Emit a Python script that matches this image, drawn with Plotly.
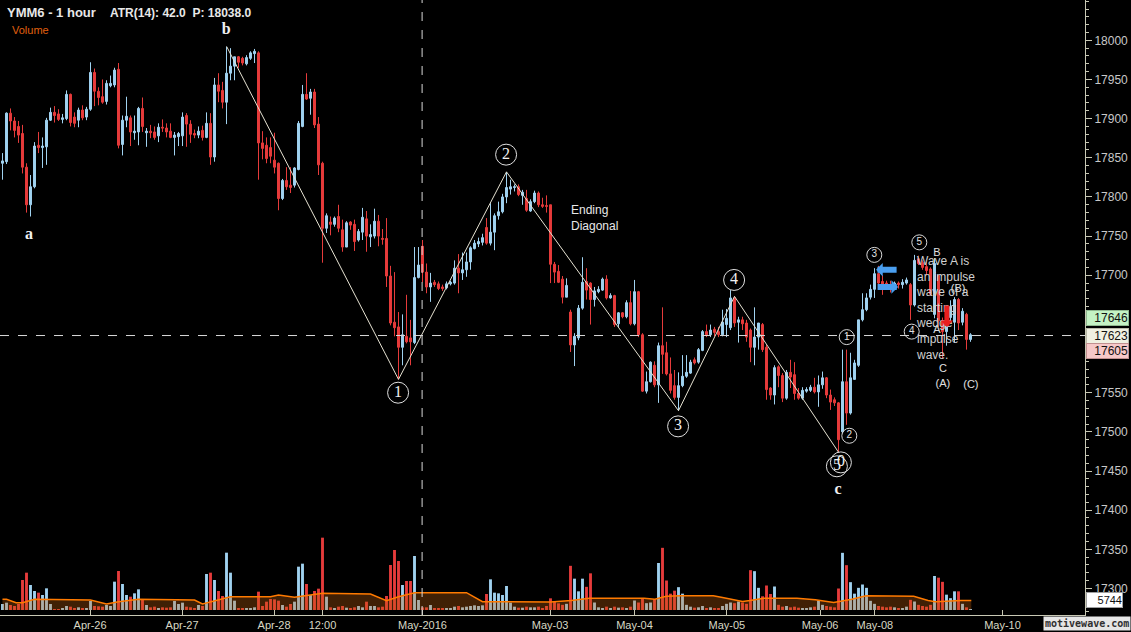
import plotly.graph_objects as go

# Hourly bars of YMM6 (bar index from the left edge of the chart)
opens = [17843, 17845, 17907, 17897, 17890, 17881, 17838, 17790, 17813, 17866,
         17863, 17864, 17898, 17908, 17906, 17899, 17900, 17931, 17902, 17898,
         17911, 17902, 17912, 17959, 17935, 17928, 17922, 17942, 17943, 17963,
         17867, 17898, 17901, 17882, 17883, 17913, 17882, 17884, 17883, 17878,
         17889, 17888, 17884, 17876, 17877, 17878, 17904, 17893, 17881, 17879,
         17885, 17876, 17894, 17851, 17943, 17936, 17921, 17958, 17967, 17979,
         17977, 17970, 17977, 17983, 17984, 17869, 17866, 17863, 17847, 17843,
         17798, 17821, 17815, 17815, 17835, 17890, 17931, 17926, 17934, 17893,
         17843, 17760, 17768, 17765, 17775, 17758, 17736, 17768, 17765, 17745,
         17755, 17772, 17749, 17750, 17769, 17747, 17747, 17699, 17640, 17634,
         17608, 17622, 17620, 17614, 17697, 17737, 17704, 17685, 17691, 17689,
         17685, 17684, 17689, 17690, 17709, 17703, 17707, 17717, 17734, 17740,
         17742, 17761, 17741, 17755, 17776, 17781, 17800, 17810, 17812, 17813,
         17802, 17798, 17782, 17794, 17805, 17790, 17789, 17790, 17714, 17705,
         17695, 17672, 17653, 17611, 17620, 17658, 17692, 17690, 17669, 17679,
         17681, 17695, 17671, 17674, 17638, 17652, 17647, 17665, 17638, 17679,
         17624, 17552, 17564, 17585, 17560, 17610, 17601, 17574, 17559, 17544,
         17559, 17571, 17575, 17592, 17589, 17604, 17628, 17624, 17631, 17628,
         17624, 17637, 17633, 17671, 17640, 17643, 17639, 17630, 17608, 17621,
         17637, 17608, 17556, 17547, 17583, 17572, 17543, 17576, 17573, 17549,
         17543, 17552, 17553, 17557, 17551, 17560, 17569, 17547, 17541, 17537,
         17500, 17564, 17524, 17567, 17585, 17643, 17656, 17672, 17682, 17702,
         17692, 17690, 17687, 17684, 17690, 17688, 17690, 17688, 17662, 17721,
         17716, 17711, 17708, 17650, 17700, 17642, 17628, 17646, 17640, 17669,
         17640, 17650, 17618]

highs = [17856, 17908, 17913, 17902, 17897, 17892, 17843, 17828, 17870, 17883,
         17876, 17901, 17914, 17916, 17912, 17906, 17936, 17932, 17908, 17914,
         17917, 17915, 17972, 17964, 17940, 17950, 17949, 17955, 17965, 17971,
         17904, 17928, 17904, 17904, 17915, 17927, 17888, 17892, 17890, 17894,
         17899, 17894, 17894, 17883, 17883, 17908, 17907, 17898, 17886, 17890,
         17891, 17908, 17907, 17952, 17958, 17947, 17992, 17990, 17979, 17980,
         17979, 17981, 17986, 17989, 17986, 17884, 17876, 17876, 17882, 17844,
         17823, 17838, 17838, 17838, 17897, 17943, 17958, 17938, 17938, 17902,
         17845, 17779, 17775, 17775, 17790, 17771, 17769, 17769, 17771, 17759,
         17786, 17782, 17765, 17785, 17777, 17759, 17773, 17712, 17704, 17653,
         17650, 17675, 17643, 17736, 17736, 17745, 17715, 17703, 17694, 17692,
         17688, 17692, 17693, 17719, 17727, 17729, 17729, 17737, 17745, 17748,
         17753, 17773, 17792, 17779, 17794, 17804, 17832, 17822, 17816, 17816,
         17809, 17809, 17797, 17808, 17807, 17799, 17802, 17790, 17717, 17713,
         17699, 17696, 17656, 17626, 17662, 17723, 17709, 17691, 17685, 17686,
         17697, 17700, 17677, 17675, 17653, 17653, 17668, 17680, 17694, 17680,
         17626, 17577, 17590, 17590, 17614, 17659, 17615, 17595, 17579, 17576,
         17598, 17598, 17592, 17595, 17607, 17630, 17637, 17637, 17634, 17634,
         17656, 17657, 17681, 17673, 17647, 17647, 17643, 17632, 17659, 17639,
         17639, 17611, 17557, 17585, 17585, 17575, 17579, 17592, 17589, 17556,
         17557, 17557, 17560, 17569, 17572, 17577, 17570, 17554, 17544, 17538,
         17605, 17605, 17601, 17592, 17643, 17677, 17677, 17688, 17709, 17712,
         17700, 17693, 17693, 17692, 17692, 17695, 17697, 17690, 17726, 17725,
         17719, 17717, 17710, 17722, 17700, 17646, 17652, 17668, 17672, 17671,
         17658, 17652, 17626]

lows = [17822, 17842, 17885, 17876, 17869, 17830, 17780, 17775, 17811, 17856,
        17837, 17841, 17897, 17895, 17897, 17894, 17898, 17890, 17889, 17889,
        17898, 17898, 17910, 17916, 17917, 17919, 17918, 17940, 17940, 17862,
        17853, 17889, 17865, 17873, 17866, 17883, 17864, 17875, 17873, 17870,
        17883, 17876, 17875, 17853, 17865, 17865, 17864, 17869, 17875, 17875,
        17872, 17875, 17841, 17845, 17921, 17913, 17893, 17949, 17949, 17965,
        17968, 17968, 17975, 17971, 17822, 17848, 17843, 17843, 17830, 17783,
        17796, 17809, 17805, 17812, 17834, 17889, 17924, 17905, 17888, 17828,
        17716, 17754, 17751, 17762, 17755, 17730, 17736, 17758, 17731, 17743,
        17745, 17730, 17736, 17747, 17737, 17739, 17685, 17636, 17622, 17567,
        17585, 17613, 17585, 17612, 17696, 17691, 17677, 17666, 17685, 17681,
        17680, 17682, 17687, 17688, 17677, 17694, 17698, 17707, 17733, 17736,
        17738, 17739, 17738, 17732, 17771, 17779, 17792, 17803, 17807, 17801,
        17790, 17781, 17781, 17792, 17787, 17786, 17780, 17690, 17690, 17690,
        17664, 17672, 17602, 17584, 17617, 17656, 17669, 17637, 17660, 17677,
        17680, 17669, 17670, 17634, 17634, 17645, 17645, 17636, 17636, 17621,
        17551, 17549, 17563, 17557, 17537, 17574, 17572, 17549, 17541, 17527,
        17557, 17569, 17574, 17586, 17587, 17603, 17621, 17621, 17622, 17621,
        17622, 17621, 17630, 17634, 17614, 17630, 17615, 17589, 17585, 17605,
        17602, 17541, 17541, 17535, 17557, 17538, 17541, 17556, 17541, 17541,
        17541, 17550, 17551, 17549, 17532, 17555, 17543, 17528, 17533, 17474,
        17498, 17509, 17522, 17567, 17583, 17641, 17654, 17669, 17671, 17686,
        17675, 17682, 17678, 17682, 17683, 17683, 17688, 17643, 17660, 17713,
        17707, 17700, 17674, 17645, 17634, 17594, 17610, 17640, 17614, 17630,
        17636, 17605, 17615]

closes = [17846, 17907, 17897, 17885, 17879, 17838, 17790, 17813, 17865, 17863,
          17865, 17898, 17908, 17904, 17899, 17901, 17931, 17895, 17894, 17911,
          17901, 17912, 17959, 17935, 17927, 17921, 17945, 17945, 17962, 17866,
          17898, 17903, 17883, 17884, 17913, 17890, 17884, 17882, 17876, 17889,
          17888, 17883, 17876, 17879, 17881, 17902, 17893, 17880, 17879, 17884,
          17876, 17894, 17851, 17943, 17935, 17921, 17958, 17967, 17979, 17972,
          17971, 17978, 17984, 17986, 17869, 17862, 17849, 17852, 17838, 17798,
          17821, 17813, 17812, 17837, 17894, 17931, 17925, 17934, 17892, 17841,
          17760, 17776, 17765, 17773, 17760, 17736, 17767, 17764, 17743, 17756,
          17774, 17750, 17752, 17769, 17750, 17746, 17699, 17639, 17633, 17608,
          17624, 17615, 17615, 17697, 17713, 17704, 17685, 17690, 17688, 17683,
          17683, 17689, 17691, 17709, 17703, 17707, 17717, 17735, 17741, 17743,
          17748, 17741, 17755, 17776, 17781, 17800, 17812, 17813, 17813, 17803,
          17806, 17783, 17794, 17805, 17790, 17788, 17788, 17714, 17704, 17691,
          17672, 17687, 17611, 17622, 17658, 17691, 17681, 17669, 17680, 17682,
          17695, 17671, 17674, 17637, 17652, 17647, 17665, 17638, 17679, 17624,
          17552, 17564, 17589, 17560, 17610, 17599, 17574, 17553, 17544, 17559,
          17571, 17576, 17589, 17588, 17605, 17628, 17624, 17630, 17627, 17624,
          17640, 17645, 17671, 17639, 17643, 17638, 17621, 17608, 17621, 17639,
          17605, 17554, 17547, 17582, 17572, 17543, 17576, 17570, 17549, 17543,
          17553, 17554, 17557, 17551, 17560, 17569, 17547, 17538, 17537, 17490,
          17564, 17524, 17569, 17588, 17643, 17656, 17671, 17682, 17702, 17690,
          17684, 17685, 17684, 17690, 17688, 17691, 17694, 17662, 17719, 17715,
          17710, 17706, 17676, 17715, 17642, 17628, 17646, 17660, 17669, 17639,
          17654, 17618, 17624]

volumes = [3600, 4400, 3000, 2400, 3600, 18000, 22400, 15000, 11400, 10400,
           9000, 13000, 3600, 600, 600, 1200, 2400, 2000, 1200, 1600,
           1000, 1200, 5400, 2400, 2200, 2000, 3000, 2400, 17000, 23400,
           15600, 9000, 8000, 10000, 12400, 6400, 3000, 1600, 2000, 1200,
           1600, 1400, 1600, 5400, 3600, 4400, 2000, 1600, 1200, 3000,
           2400, 21600, 22400, 18000, 11400, 8400, 34400, 22400, 5600, 800,
           1000, 1200, 1000, 1600, 11000, 2400, 5000, 6600, 6400, 5600,
           3000, 2000, 3600, 5000, 26000, 27800, 15600, 9000, 11400, 12800,
           43400, 8000, 1600, 1200, 2000, 2400, 1400, 1000, 1600, 2400,
           1600, 5000, 2400, 2400, 1600, 2000, 8400, 27000, 36000, 29400,
           15000, 17400, 17400, 32400, 6000, 1600, 1600, 3000, 1200, 1000,
           800, 1000, 800, 2000, 2400, 1600, 2000, 2400, 2800, 2400,
           2800, 9600, 18400, 10400, 10000, 9000, 14400, 4400, 2000, 1400,
           1400, 2000, 1600, 1600, 2000, 1200, 2400, 7000, 5000, 4000,
           3100, 3700, 26500, 18800, 11200, 18800, 13900, 22000, 4500, 1600,
           1200, 2000, 1200, 2000, 1400, 1600, 1200, 2000, 5700, 4500,
           7100, 4100, 4500, 6500, 28200, 37300, 17700, 9800, 11600, 13700,
           9800, 3100, 2000, 1400, 1600, 2400, 1200, 1600, 1200, 1000,
           2400, 3700, 4500, 4100, 5100, 4500, 3700, 23900, 23300, 13300,
           8200, 14700, 9600, 14100, 3100, 2000, 2400, 1600, 2000, 1400,
           1200, 1000, 1600, 2000, 5700, 3100, 2400, 2000, 1600, 12900,
           34300, 26900, 16700, 9800, 13300, 15300, 13300, 5500, 3700, 2400,
           2000, 1600, 2000, 1600, 1200, 1000, 2000, 6100, 5100, 3100,
           2400, 2000, 3100, 20400, 19400, 16900, 9200, 7100, 11200, 11200,
           3700, 1600, 400]

# Volume average line, read at its turning points
ma_idx = [0, 1, 3.4, 5, 8, 22, 26, 29, 34, 48, 50, 53, 57, 67, 69, 73, 80, 92,
          96, 99, 103, 116, 120, 137, 139.4, 142.2, 146.7, 160.4, 163.1, 165.9,
          169.5, 177.7, 180, 185, 186.9, 190.5, 198.6, 203.2, 207.8, 212.3,
          215.9, 225.9, 227.8, 231.4, 233.2, 239.6, 242.2]
ma_vals = [6400, 6400, 4400, 4400, 6400, 6000, 3600, 5000, 6400, 6000, 3600,
           5400, 8000, 8000, 9000, 7600, 10000, 9600, 5600, 8000, 10400, 10400,
           5000, 4800, 5100, 5700, 7100, 7100, 6500, 8200, 8600, 8600, 7500,
           5100, 5700, 7100, 7100, 6100, 4500, 6500, 8600, 8600, 8200, 5700,
           4900, 5700, 5700]

# Elliott wave pivots (b, 1, 2, 3, 4, 5)
wave_x = [56.05, 99, 126, 169, 183, 209]
wave_y = [17992, 17567, 17832, 17527, 17673, 17474]

# Circled wave labels
big_lbl = ['1', '2', '3', '4', '5', '0']
big_x = [98.9, 125.9, 168.9, 182.9, 208.6, 209.6]
big_y = [17550, 17854, 17507, 17694, 17456, 17461]
small_lbl = ['1', '2', '3', '4', '5']
small_x = [211.05, 211.7, 217.95, 227.3, 229.2]
small_y = [17621, 17495, 17726, 17628, 17742]

# Letter labels
deg_lbl = ['a', 'b', 'c']
deg_x = [6.6, 55.9, 208.9]
deg_y = [17751, 18013, 17426]
sub_lbl = ['B', 'A', 'C', '(A)', '(B)', '(C)']
sub_x = [233.6, 233.6, 235.1, 235.1, 238.9, 242.1]
sub_y = [17728, 17630, 17580, 17561, 17682, 17560]

# Axis ticks
tick_pos = [21.9, 44.9, 67.9, 80, 105, 136.9, 158, 181.1, 204.4, 218.1, 250]
tick_txt = ['Apr-26', 'Apr-27', 'Apr-28', '12:00', 'May-2016', 'May-03',
            'May-04', 'May-05', 'May-06', 'May-08', 'May-10']
price_ticks = list(range(17300, 18001, 50))

UP = '#a0d2f0'
DOWN = '#e63b3b'
FONT = 'Liberation Sans'

bar_idx = list(range(len(closes)))
vol_colors = [UP if c >= o else DOWN for o, c in zip(opens, closes)]

fig = go.Figure()

# Candles
fig.add_trace(go.Candlestick(
    x=bar_idx, open=opens, high=highs, low=lows, close=closes,
    increasing=dict(line=dict(color=UP, width=1), fillcolor=UP),
    decreasing=dict(line=dict(color=DOWN, width=1), fillcolor=DOWN),
    whiskerwidth=0, hoverinfo='skip'
))

# Volume bars and their average (fill drawn over the bars)
fig.add_trace(go.Bar(x=bar_idx, y=volumes, yaxis='y2', width=0.72,
                     marker=dict(color=vol_colors, line=dict(width=0))))
fig.add_trace(go.Scatter(x=ma_idx, y=ma_vals, yaxis='y2', mode='lines',
                         line=dict(color='#ff7a00', width=1.5),
                         fill='tozeroy', fillcolor='rgba(200,100,16,0.32)'))

# Wave line
fig.add_trace(go.Scatter(x=wave_x, y=wave_y, mode='lines',
                         line=dict(color='#e6e2d2', width=1)))

# Circled labels
fig.add_trace(go.Scatter(
    x=big_x, y=big_y, mode='markers+text', text=big_lbl,
    textposition='middle center',
    marker=dict(symbol='circle-open', size=21, color='#e0e0e0', line=dict(width=1)),
    textfont=dict(family='Liberation Serif', size=16, color='#f0f0f0')
))
fig.add_trace(go.Scatter(
    x=small_x, y=small_y, mode='markers+text', text=small_lbl,
    textposition='middle center',
    marker=dict(symbol='circle-open', size=15, color='#d8d8d8', line=dict(width=1)),
    textfont=dict(family=FONT, size=10, color='#e0e0e0')
))

# Degree letters
fig.add_trace(go.Scatter(
    x=deg_x, y=deg_y, mode='text', text=deg_lbl, textposition='middle center',
    textfont=dict(family='Liberation Serif', size=16, color='#f0f0f0', weight='bold')
))
fig.add_trace(go.Scatter(
    x=sub_x, y=sub_y, mode='text', text=sub_lbl, textposition='middle center',
    textfont=dict(family=FONT, size=11, color='#e0e0e0')
))

annotations = [
    dict(xref='paper', yref='paper', x=0.0046, y=0.979, xanchor='left', yanchor='middle',
         text='<b>YMM6 - 1 hour</b>', showarrow=False,
         font=dict(family=FONT, size=13, color='#e8e8e8')),
    dict(xref='paper', yref='paper', x=0.0995, y=0.979, xanchor='left', yanchor='middle',
         text='<b>ATR(14): 42.0\u00a0\u00a0P: 18038.0</b>', showarrow=False,
         font=dict(family=FONT, size=12, color='#e8e8e8')),
    dict(xref='paper', yref='paper', x=0.0092, y=0.951, xanchor='left', yanchor='middle',
         text='Volume', showarrow=False,
         font=dict(family=FONT, size=11, color='#e0600f')),
    dict(x=141.6, y=17795, xanchor='left', yanchor='top', align='left',
         text='Ending<br>Diagonal', showarrow=False,
         font=dict(family=FONT, size=12, color='#e8e8e8')),
    dict(x=227.9, y=17730, xanchor='left', yanchor='top', align='left',
         text='Wave A is<br>an impulse<br>wave of a<br>starting<br>wedge<br>impulse<br>wave.',
         showarrow=False, font=dict(family=FONT, size=12, color='#d0d0d0')),
    # arrows
    dict(x=218.4, y=17707, ax=22, ay=0, text='', showarrow=True, arrowhead=1,
         arrowwidth=6, arrowsize=0.37, arrowcolor='#4a9ff0'),
    dict(x=223.9, y=17685, ax=-22, ay=0, text='', showarrow=True, arrowhead=1,
         arrowwidth=6, arrowsize=0.37, arrowcolor='#4a9ff0'),
    dict(x=236.1, y=17634, ax=0, ay=-23, text='', showarrow=True, arrowhead=1,
         arrowwidth=5, arrowsize=0.42, arrowcolor='#e81e1e'),
    # price tags
    dict(xref='paper', x=1, y=17646, xanchor='left', xshift=1, text='17646',
         showarrow=False, bgcolor='#c4f2c4', bordercolor='#90b890', borderpad=0,
         width=41, height=14, align='right',
         font=dict(family=FONT, size=12, color='#101010')),
    dict(xref='paper', x=1, y=17623, xanchor='left', xshift=1, text='17623',
         showarrow=False, bgcolor='#f0f0e2', bordercolor='#b8b8a8', borderpad=0,
         width=41, height=14, align='right',
         font=dict(family=FONT, size=12, color='#101010')),
    dict(xref='paper', x=1, y=17605, xanchor='left', xshift=1, yshift=-1, text='17605',
         showarrow=False, bgcolor='#f6c8c8', bordercolor='#c09090', borderpad=0,
         width=41, height=14, align='right',
         font=dict(family=FONT, size=12, color='#101010')),
    dict(xref='paper', yref='y2', x=1, y=5744, xanchor='left', xshift=1, text='5744',
         showarrow=False, bgcolor='#ffffff', bordercolor='#a0a0a0', borderpad=0,
         width=35, height=14, align='right',
         font=dict(family=FONT, size=11, color='#101010')),
    # watermark
    dict(xref='paper', yref='paper', x=1.0424, y=-0.0146, xanchor='right', yanchor='middle',
         text='<b>motivewave.com</b>', showarrow=False, bgcolor='#e6e6e6', borderpad=1,
         font=dict(family='DejaVu Sans Mono', size=10, color='#303030')),
]

fig.update_layout(
    width=1131, height=632,
    paper_bgcolor='black', plot_bgcolor='black',
    margin=dict(l=0, r=46, t=0, b=17),
    showlegend=False,
    xaxis=dict(range=[-0.625, 270.625], rangeslider=dict(visible=False),
               tickvals=tick_pos, ticktext=tick_txt, showgrid=False, zeroline=False,
               showline=True, linecolor='#c8c8b4', linewidth=1,
               ticks='inside', ticklen=5, tickcolor='#c8c8b4',
               tickfont=dict(family=FONT, size=11, color='#d8d8c4')),
    yaxis=dict(range=[17266.1, 18051.5], side='right', tickvals=price_ticks,
               tickformat='d', showgrid=False, zeroline=False,
               showline=True, linecolor='#c8c8b4', linewidth=1,
               ticks='outside', ticklen=6, tickcolor='#c8c8b4',
               minor=dict(dtick=10, ticks='outside', ticklen=3, tickcolor='#c8c8b4'),
               tickfont=dict(family=FONT, size=12, color='#c8c8c8')),
    yaxis2=dict(overlaying='y', range=[-3000, 366000], visible=False),
    shapes=[
        dict(type='line', xref='paper', x0=0, x1=1, y0=17623, y1=17623,
             line=dict(color='#d8d8d8', width=1, dash='dash')),
        dict(type='line', yref='paper', x0=104.9, x1=104.9, y0=0, y1=1,
             line=dict(color='#d8d8d8', width=1, dash='dash')),
    ],
    annotations=annotations,
)

fig.write_html("out.html", config={'displayModeBar': False},
               post_script="document.body.style.margin='0';")
